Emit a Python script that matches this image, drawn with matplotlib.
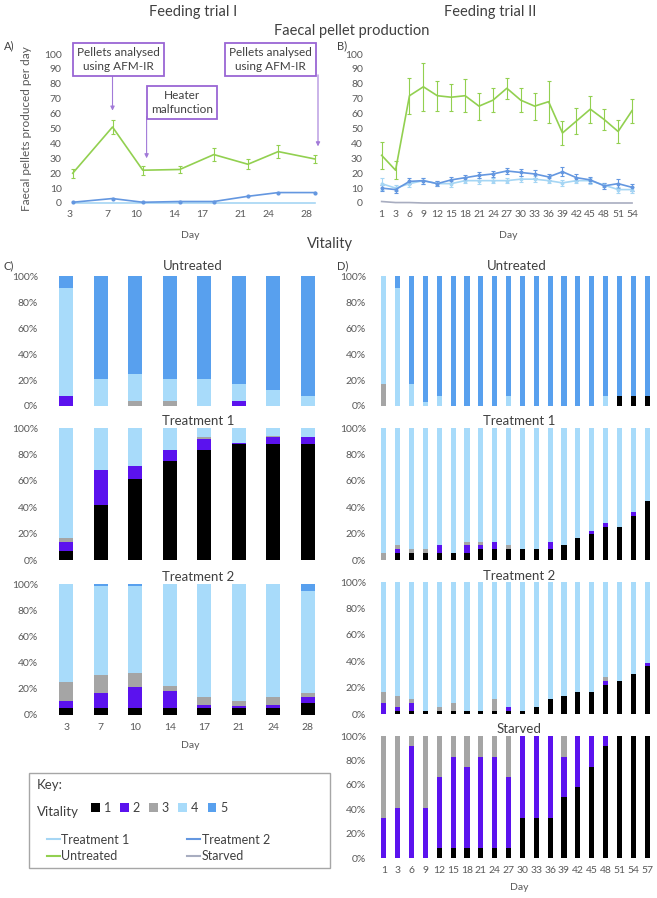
import numpy as np
import matplotlib
matplotlib.use('Agg')
import matplotlib.pyplot as plt
from matplotlib.patches import Rectangle

plt.rcParams['font.family'] = ['Lato', 'DejaVu Sans']

W, H = 657, 898
TXT = '#404040'
TICK = '#595959'

# ---- faecal pellet production, feeding trial I
days_a = [3.3, 7.5, 10.7, 14.6, 18.2, 21.8, 25.0, 28.9]
ticks_a = [3, 7, 10, 14, 17, 21, 24, 28]
untreated_a = [20, 51, 22, 22.5, 32.5, 26, 34.5, 29.5]
untreated_a_err = [3, 5, 3, 2.5, 4.5, 3.5, 4.5, 2.5]
treat2_a = [0.5, 3, 0.5, 1, 1, 4.5, 7, 7]
treat1_a = [0, 0, 0, 0, 0, 0, 0, 0]

# ---- faecal pellet production, feeding trial II
days_b = [1, 3, 6, 9, 12, 15, 18, 21, 24, 27, 30, 33, 36, 39, 42, 45, 48, 51, 54]
untreated_b = [32, 22, 72, 78, 72, 71, 72, 65, 69, 77, 69, 65, 68, 47, 55, 63, 56, 48, 62]
untreated_b_err = [9, 6, 12, 16, 10, 9, 11, 9, 8, 7, 8, 9, 14, 8, 9, 9, 7, 8, 8]
treat2_b = [10, 9, 14.5, 15, 13, 15.5, 17, 18.5, 19.5, 21.5, 20.5, 19.5, 17.5, 21, 17, 15.5, 11.5, 13, 10.5]
treat2_b_err = [2, 2, 2, 2, 1.5, 2, 1.5, 2, 2, 2, 2.5, 2.5, 2, 3, 2.5, 2, 2, 3, 2.5]
treat1_b = [13, 10, 13, 15, 13, 13, 15, 15, 15, 15, 16, 16, 15, 13.5, 15, 15, 12, 9, 9]
treat1_b_err = [4, 2, 2, 2, 1.5, 2, 1.5, 2, 1.5, 1.5, 2, 2, 1.5, 2, 1.5, 2, 1.5, 2, 2]
starved_b = [1, 0.3, 0.3, 0, 0, 0, 0, 0, 0, 0, 0, 0, 0, 0, 0, 0, 0, 0, 0]

# ---- vitality (% of animals with score 1..5)
days_c = [3, 7, 10, 14, 17, 21, 24, 28]
days_d = [1, 3, 6, 9, 12, 15, 18, 21, 24, 27, 30, 33, 36, 39, 42, 45, 48, 51, 54, 57]
vit_labels = ['1', '2', '3', '4', '5']
vit_colors = ['#000000', '#5b12ee', '#a5a5a5', '#a8dbfa', '#58a0ee']

c_untreated = [
    [0, 0, 0, 0, 0, 0, 0, 0],
    [8, 0, 0, 0, 0, 4, 0, 0],
    [0, 0, 4, 4, 0, 0, 0, 0],
    [83, 21, 21, 17, 21, 13, 12.5, 8],
    [9, 79, 75, 79, 79, 83, 87.5, 92],
]
c_treat1 = [
    [7, 42, 61, 75, 83.5, 88, 88, 88],
    [7, 26, 10, 8, 8.5, 1, 5, 5],
    [2.5, 0, 0, 0, 1, 0, 1, 0],
    [83.5, 32, 29, 17, 7, 11, 6, 7],
    [0, 0, 0, 0, 0, 0, 0, 0],
]
c_treat2 = [
    [5.5, 5.5, 5.5, 5.5, 5.5, 5.5, 5.5, 9.5],
    [5.5, 11, 15.5, 12.5, 2.5, 1.5, 2.5, 4.5],
    [14, 14, 11, 4, 6, 4, 6, 2.5],
    [75, 68, 66.5, 78, 86, 89, 86, 78.5],
    [0, 1.5, 1.5, 0, 0, 0, 0, 5],
]
d_untreated = [
    [0, 0, 0, 0, 0, 0, 0, 0, 0, 0, 0, 0, 0, 0, 0, 0, 0, 8, 8, 8],
    [0, 0, 0, 0, 0, 0, 0, 0, 0, 0, 0, 0, 0, 0, 0, 0, 0, 0, 0, 0],
    [17, 0, 0, 0, 0, 0, 0, 0, 0, 0, 0, 0, 0, 0, 0, 0, 0, 0, 0, 0],
    [83, 91, 17, 3, 8, 0, 0, 0, 0, 8, 0, 0, 0, 0, 0, 0, 8, 0, 0, 0],
    [0, 9, 83, 97, 92, 100, 100, 100, 100, 92, 100, 100, 100, 100, 100, 100, 92, 92, 92, 92],
]
d_treat1 = [
    [0, 5.5, 5.5, 5.5, 5.5, 5.5, 5.5, 8.5, 8.5, 8.5, 8.5, 8.5, 8.5, 11, 16.5, 19.5, 25, 25, 33, 44.5],
    [0, 3, 0, 0, 5.5, 0, 6, 3, 5.5, 0, 0, 0, 5.5, 0, 0, 2.5, 3, 0, 3, 0],
    [5, 2.5, 3, 3, 0, 0, 2.5, 2.5, 0, 2.5, 0, 0, 0, 0, 0, 0, 0, 0, 0, 0],
    [95, 89, 91.5, 91.5, 89, 94.5, 86, 86, 86, 89, 91.5, 91.5, 86, 89, 83.5, 78, 72, 75, 64, 55.5],
    [0, 0, 0, 0, 0, 0, 0, 0, 0, 0, 0, 0, 0, 0, 0, 0, 0, 0, 0, 0],
]
d_treat2 = [
    [0, 2.5, 2.5, 2.5, 2.5, 2.5, 2.5, 2.5, 2.5, 2.5, 2.5, 5.5, 11, 14, 16.5, 16.5, 22, 25, 30.5, 36],
    [8, 3, 5.5, 0, 0, 0, 0, 0, 0, 3, 0, 0, 0, 0, 0, 0, 3, 0, 0, 2.5],
    [8.5, 8.5, 3, 0, 3, 5.5, 0, 0, 8.5, 0, 0, 0, 0, 0, 0, 0, 3, 0, 0, 0],
    [83.5, 86, 89, 97.5, 94.5, 92, 97.5, 97.5, 89, 94.5, 97.5, 94.5, 89, 86, 83.5, 83.5, 72, 75, 69.5, 61.5],
    [0, 0, 0, 0, 0, 0, 0, 0, 0, 0, 0, 0, 0, 0, 0, 0, 0, 0, 0, 0],
]
d_starved = [
    [0, 0, 0, 0, 8, 8, 8, 8, 8, 8, 33, 33, 33, 50, 58, 75, 92, 100, 100, 100],
    [33, 41, 92, 41, 58, 75, 67, 75, 75, 58, 67, 67, 67, 33, 42, 25, 8, 0, 0, 0],
    [67, 59, 8, 59, 34, 17, 25, 17, 17, 34, 0, 0, 0, 17, 0, 0, 0, 0, 0, 0],
    [0, 0, 0, 0, 0, 0, 0, 0, 0, 0, 0, 0, 0, 0, 0, 0, 0, 0, 0, 0],
    [0, 0, 0, 0, 0, 0, 0, 0, 0, 0, 0, 0, 0, 0, 0, 0, 0, 0, 0, 0],
]

GREEN = '#92d050'
T1 = '#a6d6f4'
T2 = '#6497e0'
STARV = '#a8adc0'


fig = plt.figure(figsize=(W / 100, H / 100), dpi=100)


def add_ax(l, t, r, b):
    return fig.add_axes([l / W, 1 - b / H, (r - l) / W, (b - t) / H])


def ftext(x, y, s, **kw):
    kw.setdefault('color', TXT)
    kw.setdefault('ha', 'center')
    kw.setdefault('va', 'center')
    fig.text(x / W, 1 - y / H, s, **kw)


def clean(ax):
    for s in ax.spines.values():
        s.set_visible(False)
    ax.tick_params(length=0, colors=TICK, labelsize=7.5)


# ---------- A
axA = add_ax(68, 54, 318, 203)
clean(axA)
axA.plot(days_a, treat1_a, color=T1, lw=1.2, clip_on=False)
axA.plot(days_a, treat2_a, color=T2, lw=1.2, marker='o', ms=2, clip_on=False)
axA.errorbar(days_a, untreated_a, yerr=untreated_a_err, color=GREEN, lw=1.2,
             elinewidth=0.8, capsize=1.5, capthick=0.8)
axA.set_xlim(2.8, 29.2)
axA.set_ylim(0, 100)
axA.set_xticks(ticks_a)
axA.set_yticks(range(0, 101, 10))
axA.tick_params(axis='y', pad=4.5)
axA.tick_params(axis='x', pad=5)
axA.set_ylabel('Faecal pellets produced per day', fontsize=8.5, color=TICK)
axA.yaxis.set_label_coords(-0.145, 0.5)

boxkw = dict(boxstyle='square,pad=0.35', fc='white', ec='#9a66d4', lw=1.3)
arrkw = dict(arrowstyle='-|>', color='#a27ad8', lw=0.8, mutation_scale=6, shrinkA=0, shrinkB=0)
axA.annotate('', xy=(7.5, 62), xytext=(7.5, 86), arrowprops=arrkw, annotation_clip=False)
axA.annotate('', xy=(11.1, 30), xytext=(11.1, 58), arrowprops=arrkw, annotation_clip=False)
axA.annotate('', xy=(29.2, 38), xytext=(29.2, 86), arrowprops=arrkw, annotation_clip=False)
for x, y, s in [(8.1, 96.5, 'Pellets analysed\nusing AFM-IR'),
                (14.8, 67.5, 'Heater\nmalfunction'),
                (24.2, 96.5, 'Pellets analysed\nusing AFM-IR')]:
    axA.text(x, y, s, ha='center', va='center', fontsize=8.5, color=TXT,
             bbox=boxkw, clip_on=False, linespacing=1.3)

# ---------- B
axB = add_ax(374, 54, 639, 203)
clean(axB)
xb = np.arange(len(days_b))
axB.plot(xb, starved_b, color=STARV, lw=1.2, clip_on=False)
axB.errorbar(xb, treat1_b, yerr=treat1_b_err, color=T1, lw=1.2, marker='o', ms=1.8,
             elinewidth=0.8, capsize=1.5, capthick=0.8)
axB.errorbar(xb, treat2_b, yerr=treat2_b_err, color=T2, lw=1.2, marker='o', ms=1.8,
             elinewidth=0.8, capsize=1.5, capthick=0.8)
axB.errorbar(xb, untreated_b, yerr=untreated_b_err, color=GREEN, lw=1.2,
             elinewidth=0.8, capsize=1.5, capthick=0.8)
axB.set_xlim(-0.55, len(days_b) - 0.5)
axB.set_ylim(0, 100)
axB.set_xticks(xb, [str(d) for d in days_b])
axB.set_yticks(range(0, 101, 10))
axB.tick_params(axis='y', pad=8)
axB.tick_params(axis='x', pad=5)


# ---------- vitality bars
def vit_bars(ax, data, days, width, xlabels=False):
    clean(ax)
    x = np.arange(len(days))
    bottom = np.zeros(len(days))
    bars = []
    for row, col, lab in zip(data, vit_colors, vit_labels):
        row = np.array(row, dtype=float)
        bars.append(ax.bar(x, row, width, bottom=bottom, color=col, label=lab, lw=0))
        bottom += row
    ax.set_xlim(-0.5, len(days) - 0.5)
    ax.set_ylim(0, 100)
    ax.set_yticks(range(0, 101, 20), [f'{v}%' for v in range(0, 101, 20)])
    ax.tick_params(axis='y', pad=8)
    if xlabels:
        ax.set_xticks(x, [str(d) for d in days])
        ax.tick_params(axis='x', pad=6, labelsize=7.5)
    else:
        ax.set_xticks([])
    return bars


vit_bars(add_ax(49, 276, 325, 406), c_untreated, days_c, 0.4)
vit_bars(add_ax(49, 428, 325, 560), c_treat1, days_c, 0.4)
vit_bars(add_ax(49, 584, 325, 715), c_treat2, days_c, 0.4, xlabels=True)

vit_bars(add_ax(377, 276, 654, 406), d_untreated, days_d, 0.37)
vit_bars(add_ax(377, 428, 654, 560), d_treat1, days_d, 0.37)
vit_bars(add_ax(377, 582, 654, 714), d_treat2, days_d, 0.37)
vbars = vit_bars(add_ax(377, 736, 654, 858), d_starved, days_d, 0.37, xlabels=True)

# ---------- titles and labels
ftext(193, 12, 'Feeding trial I', fontsize=10.5)
ftext(490, 12, 'Feeding trial II', fontsize=10.5)
ftext(352, 31, 'Faecal pellet production', fontsize=10.5)
ftext(330, 244, 'Vitality', fontsize=10.5)
ftext(4, 46, 'A)', fontsize=8, ha='left')
ftext(337, 46, 'B)', fontsize=8, ha='left')
ftext(4, 266, 'C)', fontsize=8, ha='left')
ftext(337, 266, 'D)', fontsize=8, ha='left')
ftext(190, 235, 'Day', fontsize=7.5, color=TICK)
ftext(508, 235, 'Day', fontsize=7.5, color=TICK)
ftext(190, 746, 'Day', fontsize=7.5, color=TICK)
ftext(519, 888, 'Day', fontsize=7.5, color=TICK)

ftext(193, 266, 'Untreated', fontsize=9.5)
ftext(198, 421, 'Treatment 1', fontsize=9.5)
ftext(198, 577, 'Treatment 2', fontsize=9.5)
ftext(517, 266, 'Untreated', fontsize=9.5)
ftext(519, 421, 'Treatment 1', fontsize=9.5)
ftext(519, 576, 'Treatment 2', fontsize=9.5)
ftext(519, 729, 'Starved', fontsize=9.5)

# ---------- key
fig.patches.append(Rectangle((29 / W, 1 - 868 / H), 301 / W, 95 / H, transform=fig.transFigure,
                             fill=False, ec='#a6a6a6', lw=1))
ftext(37, 785, 'Key:', fontsize=9.5, ha='left')
ftext(37, 812, 'Vitality', fontsize=9.5, ha='left')
fig.legend([b[0] for b in vbars], vit_labels, loc='center left',
           bbox_to_anchor=(91 / W, 1 - 808 / H), ncol=5, frameon=False, fontsize=9,
           handlelength=0.7, handleheight=0.7, handletextpad=0.3, columnspacing=0.75,
           borderpad=0, borderaxespad=0, labelcolor=TXT)
line_handles = [plt.Line2D([], [], color=T1, lw=1.5), plt.Line2D([], [], color=GREEN, lw=1.5),
                plt.Line2D([], [], color=T2, lw=1.5), plt.Line2D([], [], color=STARV, lw=1.5)]
fig.legend(line_handles, ['Treatment 1', 'Untreated', 'Treatment 2', 'Starved'],
           loc='center left', bbox_to_anchor=(47 / W, 1 - 848 / H), ncol=2, frameon=False,
           fontsize=9, handlelength=1.0, handletextpad=0.15, columnspacing=4.6,
           labelspacing=0.35, borderpad=0, borderaxespad=0, labelcolor=TXT)

fig.savefig('out.png', dpi=100)
